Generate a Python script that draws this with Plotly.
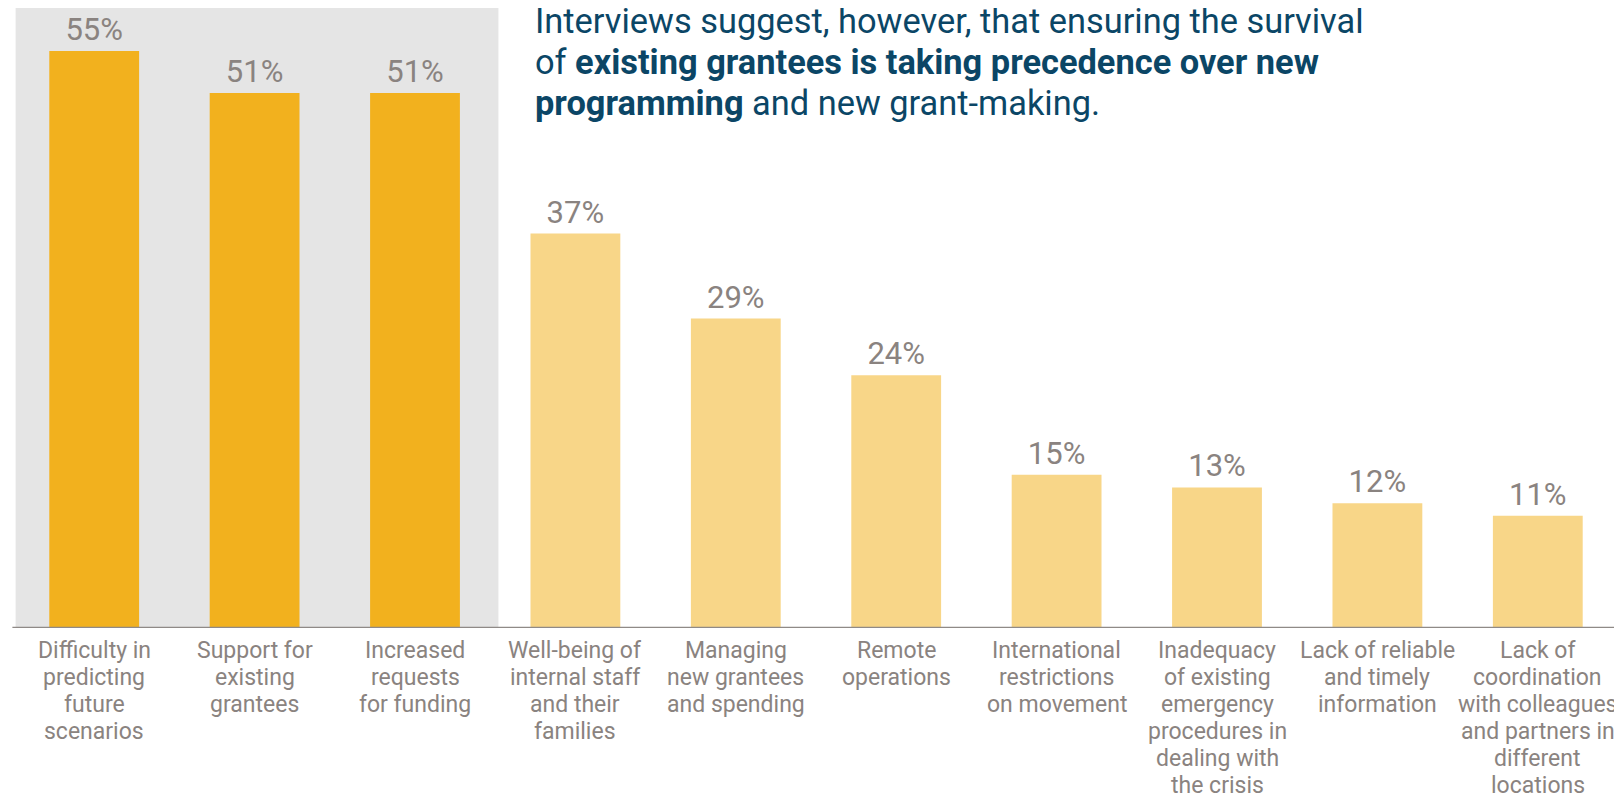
import plotly.graph_objects as go

categories = [
    "Difficulty in<br>predicting<br>future<br>scenarios",
    "Support for<br>existing<br>grantees",
    "Increased<br>requests<br>for funding",
    "Well-being of<br>internal staff<br>and their<br>families",
    "Managing<br>new grantees<br>and spending",
    "Remote<br>operations",
    "International<br>restrictions<br>on movement",
    "Inadequacy<br>of existing<br>emergency<br>procedures in<br>dealing with<br>the crisis",
    "Lack of reliable<br>and timely<br>information",
    "Lack of<br>coordination<br>with colleagues<br>and partners in<br>different<br>locations",
]
values = [55, 51, 51, 37.6, 29.5, 24.1, 14.6, 13.4, 11.9, 10.7]
value_labels = ["55%", "51%", "51%", "37%", "29%", "24%", "15%", "13%", "12%", "11%"]
highlighted = [True, True, True, False, False, False, False, False, False, False]
title_lines = [
    "Interviews suggest, however, that ensuring the survival",
    "of <b>existing grantees is taking precedence over new</b>",
    "<b>programming</b> and new grant-making.",
]

DARK = "#F2B11E"
LIGHT = "#F8D688"
GREY_TEXT = "#8A8380"
TITLE_COLOR = "#0B4666"
FONT = "Roboto"

# page body has an 8px margin, so the figure is sized to fill the rest of the window
W, H = 1614, 789
ML, MR, MT, MB = 6, 4, 0, 168.5
plot_w = W - ML - MR
plot_h = H - MT - MB

x_idx = list(range(len(categories)))
colors = [DARK if h else LIGHT for h in highlighted]

fig = go.Figure()
fig.add_trace(go.Bar(
    x=x_idx, y=values, width=0.56,
    marker=dict(color=colors, line=dict(width=0)),
    text=value_labels, textposition="outside",
    textfont=dict(family=FONT, size=31, color=GREY_TEXT),
    cliponaxis=False, hoverinfo="skip",
))

# shaded highlight region behind first three bars
fig.add_shape(type="rect", xref="x", yref="paper", x0=-0.49, x1=2.52, y0=0, y1=1,
              fillcolor="#E5E5E5", line=dict(width=0), layer="below")
# baseline
fig.add_shape(type="line", xref="paper", yref="y", x0=-0.001, x1=1.001, y0=0, y1=0,
              line=dict(color="#8F8A87", width=2.7))

# category labels, one annotation per line for tight line spacing
TICK_SIZE = 23
LINE_H = 27.0
FIRST_SHIFT = -8.5
for xi, lab in zip(x_idx, categories):
    for i, line in enumerate(lab.split("<br>")):
        fig.add_annotation(x=xi, y=0, xref="x", yref="y", text=line, showarrow=False,
                           xanchor="center", yanchor="top", borderpad=0,
                           yshift=FIRST_SHIFT + 1 - LINE_H * i,
                           font=dict(family=FONT, size=TICK_SIZE, color=GREY_TEXT))

# title text, one annotation per line (anchored at the bottom of each line box)
TITLE_SIZE = 34.4
TITLE_LINE_H = 41.4
first_baseline = 25.3  # figure px from top
for i, line in enumerate(title_lines):
    bottom = first_baseline + i * TITLE_LINE_H + 0.244 * TITLE_SIZE + 1
    fig.add_annotation(xref="paper", yref="paper", x=(525 - ML) / plot_w,
                       y=1 - (bottom - MT) / plot_h,
                       xanchor="left", yanchor="bottom", align="left", showarrow=False,
                       text=line, font=dict(family=FONT, size=TITLE_SIZE, color=TITLE_COLOR))

fig.update_layout(
    width=W, height=H,
    margin=dict(l=ML, r=MR, t=MT, b=MB, pad=0),
    paper_bgcolor="white", plot_bgcolor="white",
    showlegend=False,
    xaxis=dict(range=[-0.5, len(categories) - 0.5], showticklabels=False, showgrid=False,
               zeroline=False, showline=False, ticks=""),
    yaxis=dict(range=[0, 620.5 / 10.5], visible=False, showgrid=False, zeroline=False),
    font=dict(family=FONT),
)

fig.write_html("out.html")
